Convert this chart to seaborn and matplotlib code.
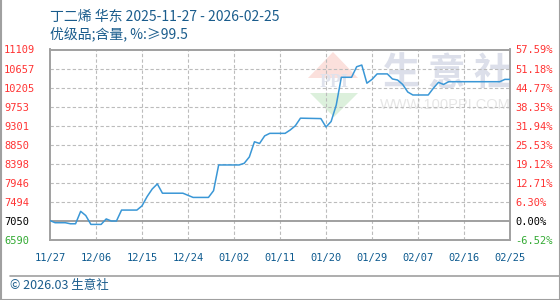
import matplotlib
matplotlib.use("Agg")
import matplotlib.pyplot as plt
import matplotlib.dates as mdates
from matplotlib.lines import Line2D
import seaborn as sns
import pandas as pd
import numpy as np

sns.set_theme(style="white")
plt.rcParams['font.family'] = ['Noto Sans CJK SC', 'DejaVu Sans']

# ---- data ----
start_date = "2025-11-27"
day_offsets = [0, 1, 3, 4, 5, 6, 7, 8, 10, 11, 12, 13, 14, 17, 18, 19, 20, 21, 22,
               26, 27, 28, 31, 32, 33, 37, 38, 39, 40, 41, 42, 43, 46, 47, 48, 49,
               53, 54, 55, 56, 57, 59, 60, 61, 62, 63, 64, 66, 67, 68, 69, 70, 71,
               74, 75, 76, 77, 78, 88, 89, 90]
prices = [7050, 7000, 7000, 6975, 6975, 7270, 7170, 6960, 6960, 7090, 7040, 7040,
          7300, 7300, 7400, 7620, 7800, 7920, 7700, 7700, 7650, 7600, 7600, 7760,
          8370, 8370, 8410, 8560, 8920, 8880, 9060, 9120, 9120, 9200, 9300, 9480,
          9470, 9270, 9400, 9790, 10450, 10450, 10700, 10740, 10310, 10400, 10530,
          10530, 10410, 10385, 10280, 10100, 10030, 10030, 10190, 10330, 10280,
          10345, 10345, 10400, 10400]
base_price = 7050
y_min, y_max = 6590, 11109
left_labels = ["6590", "7050", "7494", "7946", "8398", "8850", "9301", "9753",
               "10205", "10657", "11109"]
right_labels = ["-6.52%", "0.00%", "6.30%", "12.71%", "19.12%", "25.53%",
                "31.94%", "38.35%", "44.77%", "51.18%", "57.59%"]
x_tick_dates = ["2025-11-27", "2025-12-06", "2025-12-15", "2025-12-24",
                "2026-01-02", "2026-01-11", "2026-01-20", "2026-01-29",
                "2026-02-07", "2026-02-16", "2026-02-25"]
title_line1 = "丁二烯 华东 2025-11-27 - 2026-02-25"
title_line2 = "优级品;含量, %:≥99.5"
footer = "© 2026.03 生意社"

df = pd.DataFrame({
    "date": pd.to_datetime(start_date) + pd.to_timedelta(day_offsets, unit="D"),
    "price": prices,
})

W, H = 560, 300
fig = plt.figure(figsize=(W / 100, H / 100), dpi=100)
fig.patch.set_facecolor("white")
ax = fig.add_axes([50 / W, 1 - 240 / H, 460 / W, 190.5 / H])

tick_vals = np.linspace(y_min, y_max, len(left_labels))
xt = pd.to_datetime(x_tick_dates)
x0 = pd.to_datetime(x_tick_dates[0])
x1 = pd.to_datetime(x_tick_dates[-1])

# bottom axes: date axis, left labels, watermark
ax.plot([x0, x1], [y_min, y_min], alpha=0)  # establish date units
ax.set_xlim(x0, x1)
ax.set_ylim(y_min, y_max)

mono = ["DejaVu Sans Mono"]
ax.set_yticks(tick_vals)
ax.set_yticklabels(left_labels, family=mono, fontsize=7.5)
ax.tick_params(axis="y", pad=33)
for lab, txt in zip(ax.get_yticklabels(), left_labels):
    lab.set_horizontalalignment("left")
    lab.set_color("#000000" if txt == "7050" else ("#33aa33" if txt.startswith("6590") else "#ff3333"))

ax.set_xticks(xt)
ax.xaxis.set_major_formatter(mdates.DateFormatter("%m/%d"))
ax.tick_params(axis="x", pad=9, labelsize=7.5, labelcolor="#0d5a8f")
for lab in ax.get_xticklabels():
    lab.set_family(mono)

wm_color = "#dcdfea"
for ch, cx in zip("生意社", [402, 446, 492]):
    ax.text(cx / W, 1 - 73 / H, ch, transform=fig.transFigure, fontsize=27,
            color=wm_color, ha="center", va="center", fontweight="bold", zorder=0.3)
ax.text(445 / W, 1 - 105 / H, "WWW.100PPI.COM", transform=fig.transFigure,
        fontsize=10.5, color="#e6e6e6", ha="center", va="center",
        family=["Liberation Sans", "DejaVu Sans"], zorder=0.3)
ax.text(334 / W, 1 - 83 / H, "PPI", transform=fig.transFigure, fontsize=13,
        color="#dfe2ec", ha="center", va="center", fontweight="bold",
        family=["Liberation Serif", "DejaVu Serif"], zorder=0.3)
ax.fill([333 / W, 308 / W, 358 / W], [1 - 52 / H, 1 - 78 / H, 1 - 78 / H],
        transform=fig.transFigure, color="#fbe0dc", zorder=0.2, lw=0)
ax.fill([310 / W, 358 / W, 334 / W], [1 - 93 / H, 1 - 93 / H, 1 - 117 / H],
        transform=fig.transFigure, color="#dcf0dc", zorder=0.2, lw=0)
ax.set_xlim(x0, x1)
ax.set_ylim(y_min, y_max)

# top (twin) axes: grid, baseline, price line, right labels
ax2 = ax.twinx()
ax2.patch.set_visible(False)
grid_kw = dict(color="#bcbcbc", lw=0.8, ls=(0, (3, 2)), zorder=1)
for v in tick_vals[2:]:
    ax2.axhline(v, **grid_kw)
for d in xt[1:-1]:
    ax2.axvline(d, **grid_kw)
ax2.axhline(base_price, color="#999999", lw=1.3, zorder=2)
sns.lineplot(data=df, x="date", y="price", ax=ax2, color="#3a97d6", lw=1.1,
             zorder=3, legend=False)
ax2.set_xlim(x0, x1)
ax2.set_ylim(y_min, y_max)
ax2.set_ylabel("")
ax2.set_yticks(tick_vals)
ax2.set_yticklabels(right_labels, family=mono, fontsize=7.5)
ax2.tick_params(axis="y", pad=4)
for lab, txt in zip(ax2.get_yticklabels(), right_labels):
    lab.set_color("#000000" if txt == "0.00%" else ("#33aa33" if txt.startswith("-") else "#ff3333"))
ax.set_xlabel("")
ax.set_ylabel("")

for a in (ax, ax2):
    a.tick_params(length=0)
    for s in a.spines.values():
        s.set_color("#a0a0a0")
        s.set_linewidth(1.2)

# titles & footer
title_color = "#1a5c8c"
fig.text(50 / W, 1 - 17 / H, title_line1, fontsize=10, color=title_color,
         ha="left", va="center")
fig.text(50 / W, 1 - 34 / H, title_line2, fontsize=10, color=title_color,
         ha="left", va="center")
fig.text(10 / W, 1 - 286 / H, footer, fontsize=9, color=title_color,
         ha="left", va="center")

# frame lines
fig.add_artist(Line2D([10 / W, 1], [1 - 275.5 / H] * 2, color="#a0a0a0", lw=1.2,
                      transform=fig.transFigure))
fig.add_artist(Line2D([0.5 / W, 0.5 / W], [0, 1], color="#a0a0a0", lw=1.5,
                      transform=fig.transFigure))
fig.add_artist(Line2D([1 - 0.5 / W, 1 - 0.5 / W], [0, 1], color="#a0a0a0", lw=1.5,
                      transform=fig.transFigure))
fig.add_artist(Line2D([0, 1], [0.5 / H, 0.5 / H], color="#a0a0a0", lw=1.5,
                      transform=fig.transFigure))

fig.savefig("out.png", dpi=100, facecolor="white")
